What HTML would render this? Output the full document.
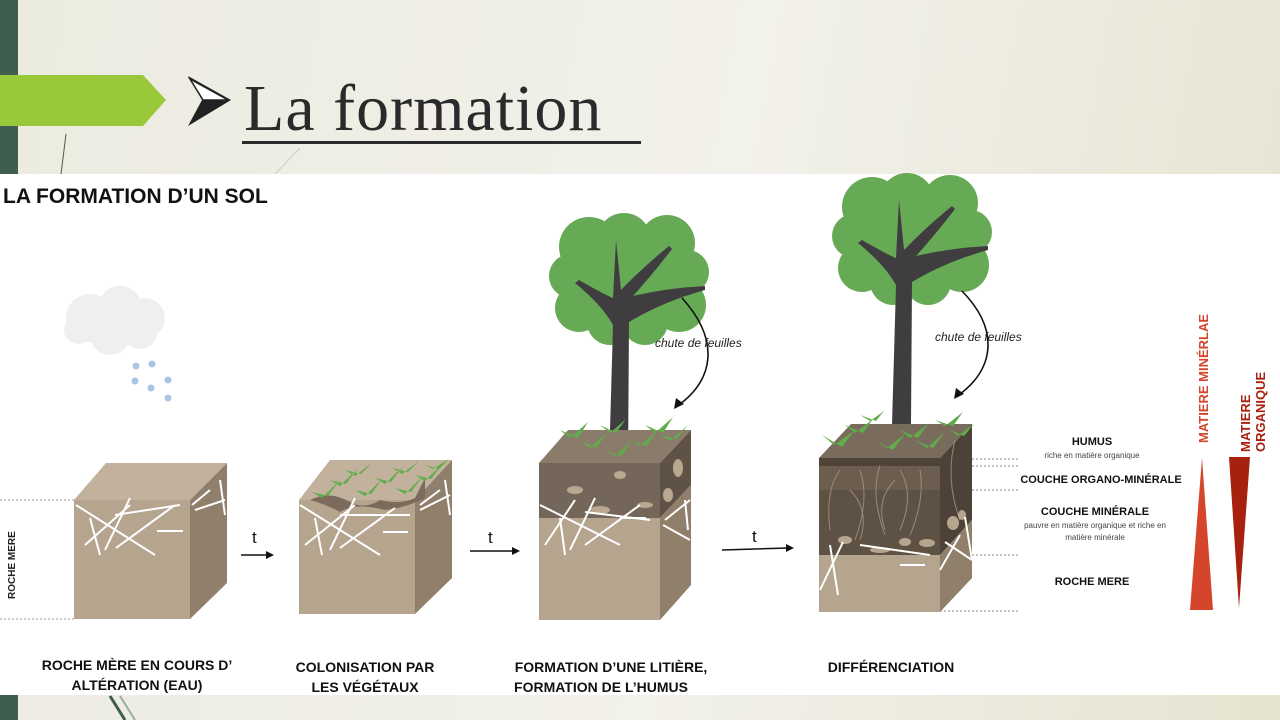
<!DOCTYPE html>
<html><head><meta charset="utf-8"><style>
html,body{margin:0;padding:0;width:1280px;height:720px;overflow:hidden}
body{background:linear-gradient(100deg,#ecebe0 0%,#f2f1ea 55%,#e6e3d0 100%);position:relative;font-family:"Liberation Sans",sans-serif}
</style></head><body>
<svg width="1280" height="720" viewBox="0 0 1280 720" xmlns="http://www.w3.org/2000/svg" style="position:absolute;left:0;top:0">
<defs>
<g id="tree">
  <g fill="#67aa55">
    <circle cx="872" cy="207" r="30"/><circle cx="907" cy="200" r="27"/><circle cx="950" cy="203" r="28"/>
    <circle cx="970" cy="232" r="22"/><circle cx="962" cy="265" r="27"/><circle cx="928" cy="282" r="23"/>
    <circle cx="893" cy="282" r="23"/><circle cx="862" cy="268" r="24"/><circle cx="854" cy="236" r="22"/><circle cx="915" cy="240" r="45"/>
  </g>
  <path d="M892 425 L896 285 Q 885 265 858 243 L 862 240 Q 888 255 896 258 L 899 200 L 904 250 Q 925 228 952 206 L 955 209 Q 935 235 916 256 Q 950 248 988 246 L 988 250 Q 945 262 912 282 L 911 425 Z" fill="#403d40"/>
</g>
</defs>

<rect x="0" y="0" width="18" height="174" fill="#3f5e4f"/>
<rect x="0" y="695" width="18" height="25" fill="#3f5e4f"/>
<polygon points="0,75 143,75 166,100 143,126 0,126" fill="#99c93b"/>
<line x1="66" y1="134" x2="61" y2="174" stroke="#555" stroke-width="1"/>
<line x1="300" y1="148" x2="275" y2="174" stroke="#ccc" stroke-width="1"/>
<polygon points="188,76 231,100 188,126 202,100" fill="#222"/>
<polygon points="190,79 228,100 203,100" fill="#fff" stroke="#222" stroke-width="1.5"/>
<text x="244" y="130" font-family="Liberation Serif,serif" font-size="66" fill="#2a2a2a" letter-spacing="1">La formation</text>
<rect x="242" y="141" width="399" height="3" fill="#2a2a2a"/>

<rect x="0" y="174" width="1280" height="521" fill="#fff"/>
<text x="3" y="203" font-size="21" font-weight="bold" fill="#111">LA FORMATION D’UN SOL</text>

<g fill="#efefef">
<circle cx="90" cy="318" r="24"/><circle cx="120" cy="308" r="22"/><circle cx="145" cy="318" r="20"/><circle cx="110" cy="335" r="20"/><circle cx="140" cy="332" r="17"/><circle cx="78" cy="330" r="14"/>
</g>
<g fill="#a9c6e2">
<circle cx="136" cy="366" r="3.5"/><circle cx="152" cy="364" r="3.5"/><circle cx="135" cy="381" r="3.5"/><circle cx="168" cy="380" r="3.5"/><circle cx="151" cy="388" r="3.5"/><circle cx="168" cy="398" r="3.5"/>
</g>

<line x1="0" y1="500" x2="74" y2="500" stroke="#999" stroke-dasharray="2,2"/>
<line x1="0" y1="619" x2="74" y2="619" stroke="#999" stroke-dasharray="2,2"/>
<text transform="translate(15,599) rotate(-90)" font-size="10" font-weight="bold" fill="#222">ROCHE MERE</text>

<polygon points="74,500 106,463 227,463 190,500" fill="#c2b19c"/>
<rect x="74" y="500" width="116" height="119" fill="#b5a48e"/>
<polygon points="190,500 227,463 227,583 190,619" fill="#8f7f6b"/>
<g stroke="#fff" stroke-width="2">
<line x1="76" y1="505" x2="155" y2="555"/><line x1="90" y1="518" x2="100" y2="555"/><line x1="85" y1="545" x2="130" y2="505"/><line x1="105" y1="550" x2="130" y2="498"/><line x1="115" y1="515" x2="180" y2="505"/><line x1="116" y1="548" x2="175" y2="505"/><line x1="157" y1="531" x2="183" y2="531"/>
<line x1="192" y1="505" x2="210" y2="490"/><line x1="195" y1="510" x2="225" y2="500"/><line x1="220" y1="480" x2="225" y2="515"/>
</g>

<text x="252" y="543" font-size="17" fill="#111">t</text>
<line x1="241" y1="555" x2="270" y2="555" stroke="#111" stroke-width="1.5"/><polygon points="274,555 266,551 266,559" fill="#111"/>

<polygon points="299,500 330,460 452,460 415,500" fill="#c2b19c"/>
<rect x="299" y="500" width="116" height="114" fill="#b5a48e"/>
<polygon points="415,500 452,460 452,578 415,614" fill="#8f7f6b"/>
<path d="M310 500 q20 -10 40 2 q15 8 30 -2 q20 5 35 -2 l10 -20 l0 20 q-20 10 -40 12 q-30 -8 -45 2 q-15 -8 -30 -12z" fill="#7a6b5c"/>
<g fill="#5fad4b">
<path d="M312 492 l10 6 l18 -18 l-12 16z M330 480 l10 6 l18 -18 l-12 16z M345 470 l10 6 l18 -14 l-12 12z M355 490 l10 6 l18 -18 l-12 16z M375 478 l10 6 l18 -18 l-12 16z M392 468 l10 6 l18 -14 l-12 12z M395 488 l10 6 l18 -18 l-12 16z M415 475 l10 6 l18 -18 l-12 16z M425 465 l8 4 l16 -10 l-10 10z"/>
</g>
<g stroke="#fff" stroke-width="2">
<line x1="300" y1="505" x2="380" y2="555"/><line x1="315" y1="518" x2="322" y2="555"/><line x1="305" y1="545" x2="355" y2="505"/><line x1="330" y1="550" x2="355" y2="498"/><line x1="340" y1="515" x2="410" y2="515"/><line x1="340" y1="548" x2="395" y2="508"/><line x1="383" y1="532" x2="408" y2="532"/>
<line x1="420" y1="505" x2="440" y2="490"/><line x1="420" y1="510" x2="450" y2="495"/><line x1="445" y1="480" x2="450" y2="515"/>
</g>

<text x="488" y="543" font-size="17" fill="#111">t</text>
<line x1="470" y1="551" x2="515" y2="551" stroke="#111" stroke-width="1.5"/><polygon points="520,551 512,547 512,555" fill="#111"/>

<use href="#tree" transform="translate(-283,40)"/>
<polygon points="539,463 568,430 691,430 660,463" fill="#8a7b6b"/>
<rect x="539" y="463" width="121" height="55" fill="#74675a"/>
<rect x="539" y="518" width="121" height="102" fill="#b5a48e"/>
<polygon points="660,463 691,430 691,485 660,518" fill="#5e5346"/>
<polygon points="660,518 691,485 691,585 660,620" fill="#8f7f6b"/>
<g fill="#b9a78f"><ellipse cx="620" cy="475" rx="6" ry="4"/><ellipse cx="575" cy="490" rx="8" ry="4"/><ellipse cx="600" cy="510" rx="10" ry="4"/><ellipse cx="645" cy="505" rx="8" ry="3"/><ellipse cx="678" cy="468" rx="5" ry="9"/><ellipse cx="668" cy="495" rx="5" ry="7"/></g>
<g fill="#5fad4b">
<path d="M560 430 l10 8 l18 -16 l-10 16z M580 440 l10 8 l18 -16 l-12 16z M600 425 l10 8 l16 -14 l-10 14z M630 440 l10 6 l18 -16 l-12 16z M645 425 l10 8 l18 -16 l-10 16z M660 435 l10 6 l18 -16 l-12 14z M605 450 l10 6 l16 -14 l-10 14z"/>
</g>
<g stroke="#fff" stroke-width="2">
<line x1="540" y1="505" x2="620" y2="545"/><line x1="560" y1="518" x2="565" y2="555"/><line x1="545" y1="545" x2="575" y2="500"/><line x1="570" y1="550" x2="595" y2="498"/><line x1="585" y1="512" x2="650" y2="520"/><line x1="585" y1="545" x2="640" y2="505"/><line x1="620" y1="518" x2="646" y2="518"/>
<line x1="665" y1="520" x2="690" y2="500"/><line x1="663" y1="525" x2="690" y2="540"/><line x1="685" y1="500" x2="688" y2="530"/>
</g>
<text x="655" y="347" font-size="12" font-style="italic" fill="#222">chute de feuilles</text>
<path d="M682 298 C 720 340, 715 380, 676 407" fill="none" stroke="#111" stroke-width="1.6"/><polygon points="674,409 676,398 684,404" fill="#111"/>

<text x="752" y="542" font-size="17" fill="#111">t</text>
<line x1="722" y1="550" x2="788" y2="548" stroke="#111" stroke-width="1.5"/><polygon points="794,548 786,544 786,552" fill="#111"/>

<use href="#tree"/>
<polygon points="819,458 851,424 972,424 940,458" fill="#7a6c5c"/>
<rect x="819" y="458" width="121" height="8" fill="#4f4337"/>
<rect x="819" y="466" width="121" height="24" fill="#6b5e4f"/>
<rect x="819" y="490" width="121" height="65" fill="#5e5244"/>
<rect x="819" y="555" width="121" height="57" fill="#b5a48e"/>
<polygon points="940,458 972,424 972,520 940,555" fill="#4d4237"/>
<polygon points="940,555 972,520 972,578 940,612" fill="#8f7f6b"/>
<g stroke="#a79886" stroke-width="1" fill="none" opacity="0.8">
<path d="M840 470 q-15 20 -10 60 M860 470 q10 30 -5 70 M880 465 q-10 30 5 70 M900 470 q15 25 0 60 M920 470 q5 30 -10 65 M850 490 q20 20 10 50 M895 480 q-20 20 -10 50 M955 440 q-10 40 5 80"/>
</g>
<g fill="#b5a48e"><ellipse cx="845" cy="540" rx="7" ry="4"/><ellipse cx="880" cy="550" rx="10" ry="3"/><ellipse cx="905" cy="542" rx="6" ry="4"/><ellipse cx="927" cy="543" rx="8" ry="4"/><ellipse cx="953" cy="523" rx="6" ry="7"/><ellipse cx="962" cy="515" rx="4" ry="5"/></g>
<g fill="#5fad4b">
<path d="M822 435 l12 10 l20 -14 l-12 16z M845 425 l10 8 l18 -14 l-10 14z M875 440 l12 8 l18 -14 l-12 16z M900 430 l10 8 l18 -14 l-10 14z M915 440 l12 8 l18 -16 l-12 16z M935 420 l10 6 l18 -14 l-10 14z M950 430 l8 6 l16 -12 l-10 12z M860 415 l10 6 l14 -10 l-8 10z"/>
</g>
<g stroke="#fff" stroke-width="2">
<line x1="830" y1="545" x2="838" y2="595"/><line x1="820" y1="590" x2="843" y2="542"/><line x1="860" y1="545" x2="930" y2="555"/><line x1="900" y1="565" x2="925" y2="565"/><line x1="940" y1="570" x2="960" y2="535"/><line x1="945" y1="542" x2="972" y2="560"/><line x1="965" y1="517" x2="972" y2="560"/>
</g>
<text x="935" y="341" font-size="12" font-style="italic" fill="#222">chute de feuilles</text>
<path d="M962 291 C 1000 330, 995 370, 956 397" fill="none" stroke="#111" stroke-width="1.6"/><polygon points="954,399 956,388 964,394" fill="#111"/>

<g stroke="#888" stroke-dasharray="2,2">
<line x1="972" y1="459" x2="1018" y2="459"/><line x1="972" y1="466" x2="1018" y2="466"/><line x1="972" y1="490" x2="1018" y2="490"/><line x1="972" y1="555" x2="1018" y2="555"/><line x1="940" y1="611" x2="1018" y2="611"/>
</g>
<g text-anchor="middle" fill="#111">
<text x="1092" y="445" font-size="11" font-weight="bold">HUMUS</text>
<text x="1092" y="458" font-size="8" fill="#444">riche en matière organique</text>
<text x="1101" y="483" font-size="11" font-weight="bold">COUCHE ORGANO-MINÉRALE</text>
<text x="1095" y="515" font-size="11" font-weight="bold">COUCHE MINÉRALE</text>
<text x="1095" y="528" font-size="8" fill="#444">pauvre en matière organique et riche en</text>
<text x="1095" y="540" font-size="8" fill="#444">matière minérale</text>
<text x="1092" y="585" font-size="11" font-weight="bold">ROCHE MERE</text>
</g>
<polygon points="1190,610 1213,610 1202,458" fill="#d5452b"/>
<polygon points="1229,457 1250,457 1239,608" fill="#a8200e"/>
<text transform="translate(1208,443) rotate(-90)" font-size="13" font-weight="bold" fill="#d5452b">MATIERE MINÉRLAE</text>
<text transform="translate(1250,452) rotate(-90)" font-size="13" font-weight="bold" fill="#a8200e">MATIERE</text>
<text transform="translate(1265,452) rotate(-90)" font-size="13" font-weight="bold" fill="#a8200e">ORGANIQUE</text>

<g text-anchor="middle" font-size="14" font-weight="bold" fill="#111">
<text x="137" y="670">ROCHE MÈRE EN COURS D’</text>
<text x="137" y="690">ALTÉRATION (EAU)</text>
<text x="365" y="672">COLONISATION PAR</text>
<text x="365" y="692">LES VÉGÉTAUX</text>
<text x="611" y="672">FORMATION D’UNE LITIÈRE,</text>
<text x="601" y="692">FORMATION DE L’HUMUS</text>
<text x="891" y="672">DIFFÉRENCIATION</text>
</g>
<line x1="110" y1="696" x2="125" y2="720" stroke="#3f5e4f" stroke-width="3"/>
<line x1="120" y1="696" x2="135" y2="720" stroke="#9aa" stroke-width="2"/>
</svg>
</body></html>
